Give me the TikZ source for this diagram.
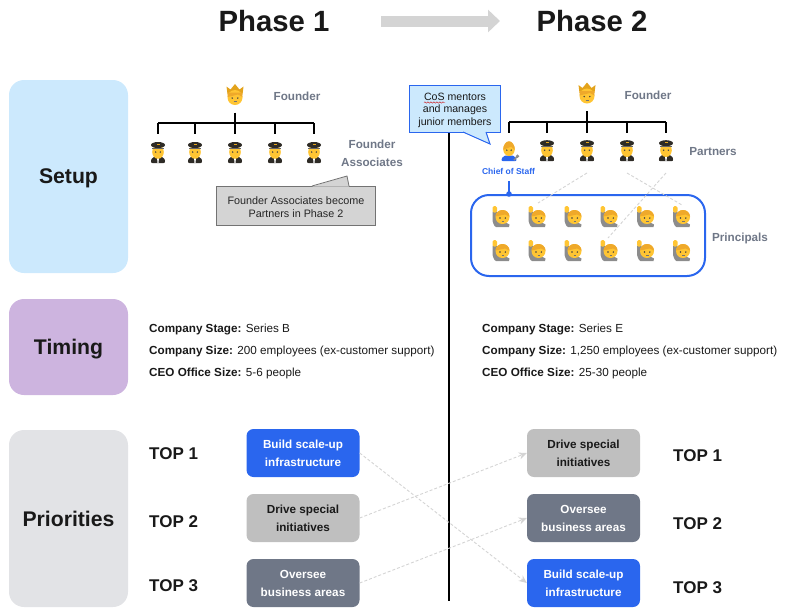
\documentclass[tikz,border=0pt]{standalone}
\usepackage{fontspec}
\setmainfont{Liberation Sans}
\usetikzlibrary{arrows.meta,decorations.pathmorphing}

\definecolor{skyfill}{HTML}{CCE9FD}
\definecolor{lilacfill}{HTML}{CDB4DF}
\definecolor{mistfill}{HTML}{E2E3E6}
\definecolor{bluefill}{HTML}{2A66EE}
\definecolor{silverfill}{HTML}{BFBFBF}
\definecolor{slatefill}{HTML}{6F7787}
\definecolor{skin}{HTML}{FFC533}
\definecolor{hair}{HTML}{EFA92A}
\definecolor{gold}{HTML}{E3A31C}
\definecolor{capdark}{HTML}{2E2B26}
\definecolor{sleeve}{HTML}{8C8C8C}
\definecolor{dashgrey}{HTML}{D4D4D4}

\tikzset{
  rowbox/.style={draw=none,rounded corners=15pt,minimum width=119pt,font=\bfseries\fontsize{21.2}{24}\selectfont,text=black!90,inner sep=0pt},
  taskbox/.style={rounded corners=7pt,minimum width=113pt,minimum height=48pt,inner sep=0pt,align=center,text height=28pt,font=\bfseries\fontsize{11.7}{18}\selectfont},
  buildbox/.style={taskbox,fill=bluefill,text=white},
  drivebox/.style={taskbox,fill=silverfill,text=black!90},
  overseebox/.style={taskbox,fill=slatefill,text=white},
  toplabel/.style={anchor=west,inner sep=0pt,font=\bfseries\fontsize{17}{18}\selectfont,text=black!90},
  rolelabel/.style={inner sep=0pt,align=center,font=\bfseries\fontsize{11.7}{18}\selectfont,text=slatefill},
  factline/.style={anchor=west,inner sep=0pt,font=\fontsize{11.7}{12}\selectfont,text=black!90},
  iconbox/.style={inner sep=0pt,minimum width=22pt,minimum height=36pt},
  orgline/.style={line width=1.5pt,black},
  movearrow/.style={dashgrey,densely dashed,line width=0.9pt,-{Stealth[length=8pt,width=7pt]}},
  moveline/.style={dashgrey,densely dashed,line width=0.9pt},
  pics/founder/.style={code={
    \fill[gold] (-7.5,0) -- (-8.5,-8) -- (-4.5,-5) -- (0,-10.5) -- (4.5,-5) -- (8.5,-8) -- (7.5,0) -- cycle;
    \fill[skin] (0,3) ellipse (7.5 and 7.5);
    \fill[hair] (-7.5,2.5) -- (-7,-2) -- (7,-2) -- (7.5,2.5) -- (3,0) -- cycle;
    \fill[black!75] (-2.8,3.5) circle (0.8) (2.8,3.5) circle (0.8);
    \draw[black!55,line width=0.5pt] (-1.5,7) -- (1.5,7);
  }},
  pics/pilot/.style={code={
    \fill[capdark,rounded corners=2pt] (-7.5,10.5) -- (-6,4.5) -- (6,4.5) -- (7.5,10.5) -- cycle;
    \fill[white] (-1,5) -- (1,5) -- (0.5,10.5) -- (-0.5,10.5) -- cycle;
    \fill[skin] (0,-0.5) ellipse (5.8 and 6.8);
    \fill[capdark] (0,-7.5) ellipse (7 and 3);
    \fill[gold] (-1.5,-9) rectangle (1.5,-7.5);
    \fill[black!60] (-6,-5) rectangle (6,-4);
    \fill[black!75] (-2.3,-0.5) circle (0.8) (2.3,-0.5) circle (0.8);
  }},
  pics/principal/.style={code={
    \fill[sleeve] (-8.5,-5) -- (-8.5,5) to[out=90,in=180] (-5,10.5) -- (8,10.5) -- (8.5,8) -- (3,5) -- (-4,4) -- (-4,-5) -- cycle;
    \fill[skin,rounded corners=1.5pt] (-8.5,-4) rectangle (-4,-10.5);
    \fill[skin] (1.5,0.5) circle (7);
    \fill[hair] (-5.5,0) arc (180:360:7 and 6.5) -- (4,-2) -- cycle;
    \fill[black!75] (-1,1.5) circle (0.8) (4.3,1.5) circle (0.8);
    \draw[black!55,line width=0.5pt] (0.5,5) -- (3,5);
  }},
  pics/chief/.style={code={
    \fill[bluefill,rounded corners=2pt] (-8,10.5) -- (-6,5) -- (6,5) -- (8,10.5) -- cycle;
    \fill[skin] (0,-1.5) ellipse (5.8 and 6.8);
    \fill[hair] (-5.8,-1) arc (180:360:5.8 and 8.5) -- (2,-4) -- cycle;
    \fill[black!75] (-2.2,-0.5) circle (0.8) (2.2,-0.5) circle (0.8);
    \draw[sleeve,line width=1.4pt] (5,9.5) -- (8,6);
    \fill[sleeve] (8.5,5.5) circle (1.8);
  }},
}

\begin{document}
\begin{tikzpicture}[x=1pt,y=-1pt]
  \useasboundingbox (0,0) rectangle (788,614);

  % header
  \node[inner sep=0pt,font=\bfseries\fontsize{29.3}{32}\selectfont,text=black!90] (phaseone) at (274,21) {Phase 1};
  \node[inner sep=0pt,font=\bfseries\fontsize{29.3}{32}\selectfont,text=black!90] (phasetwo) at (592,21) {Phase 2};
  \coordinate (headstart) at (381,21);
  \coordinate (headend) at (500,21);
  \draw[dashgrey,line width=11pt,-{Triangle[length=12pt,width=22pt]}] (headstart) -- (headend);

  % rows on the left
  \node[rowbox,fill=skyfill,minimum height=193pt,text depth=0pt] (setup) at (68.5,176.5) {Setup};
  \node[rowbox,fill=lilacfill,minimum height=96pt,text depth=0pt] (timing) at (68.5,347) {Timing};
  \node[rowbox,fill=mistfill,minimum height=177pt] (priorities) at (68.5,518.5) {Priorities};

  % divider
  \coordinate (divtop) at (449,133);
  \coordinate (divbottom) at (449,601);
  \draw[black,line width=1.5pt] (divtop) -- (divbottom);

  % phase 1 chart
  \node[iconbox] (founderA) at (235,94.5) {};
  \pic at (founderA) {founder};
  \coordinate (busA) at (235,123);
  \foreach \x/\n in {158/a,195/b,235/c,275/d,314/e} {
    \node[iconbox] (assoc\n) at (\x,152.5) {};
    \pic at (assoc\n) {pilot};
    \draw[orgline] (\x,123) -- (assoc\n.north);
  }
  \draw[orgline] (assoca.north |- busA) -- (assoce.north |- busA);
  \draw[orgline] (founderA.south) -- (busA);
  \node[rolelabel] (founderAlabel) at (297,96) {Founder};
  \node[rolelabel] (assoclabel) at (372,153) {Founder\\Associates};

  % grey callout
  \node[draw=black!55,fill=black!17,line width=0.8pt,minimum width=159pt,minimum height=39pt,inner sep=0pt,align=center,text height=24pt,font=\fontsize{10.8}{13}\selectfont,text=black!85] (becomenote) at (296,205.5) {Founder Associates become\\Partners in Phase 2};
  \coordinate (becometip) at (347,176);
  \fill[black!17] (312,186.6) -- (becometip) -- (349,186.6) -- cycle;
  \draw[black!55,line width=0.8pt] (312,186) -- (becometip) -- (349,186);

  % phase 2 chart
  \node[iconbox] (founderB) at (587,93) {};
  \pic at (founderB) {founder};
  \coordinate (busB) at (587,122);
  \node[iconbox] (chief) at (509,150.7) {};
  \pic at (chief) {chief};
  \foreach \x/\n in {547/a,587/b,627/c,666/d} {
    \node[iconbox] (partner\n) at (\x,150.7) {};
    \pic at (partner\n) {pilot};
    \draw[orgline] (\x,122) -- (partner\n.north);
  }
  \draw[orgline] (509,122) -- (chief.north);
  \draw[orgline] (chief.north |- busB) -- (partnerd.north |- busB);
  \draw[orgline] (founderB.south) -- (busB);
  \node[rolelabel] (founderBlabel) at (648,95) {Founder};
  \node[rolelabel] (partnerlabel) at (713,152) {Partners};
  \node[inner sep=0pt,font=\bfseries\fontsize{8.5}{10}\selectfont,text=bluefill] (chieflabel) at (508.5,171) {Chief of Staff};

  % principals
  \node[draw=bluefill,line width=2pt,rounded corners=18pt,minimum width=234pt,minimum height=81pt,inner sep=0pt] (team) at (588,235.5) {};
  \foreach \x/\n in {501/a,537/b,573/c,609/d,645.5/e,681.5/f} {
    \foreach \y/\r in {216.5/u,250.5/l} {
      \node[iconbox] (pr\r\n) at (\x,\y) {};
      \pic at (pr\r\n) {principal};
    }
  }
  \node[rolelabel] (principallabel) at (740,238) {Principals};
  \coordinate (chieffoot) at (509,181);
  \draw[bluefill,line width=1.2pt] (chieffoot) -- (chief |- team.north);
  \fill[bluefill] (chief |- team.north) circle (2.8);
  \coordinate (moveAa) at (587,173);
  \coordinate (moveAb) at (538,203);
  \coordinate (moveBa) at (627,173);
  \coordinate (moveBb) at (682,205);
  \coordinate (moveCa) at (666,173);
  \coordinate (moveCb) at (608,238);
  \draw[moveline] (moveAa) -- (moveAb);
  \draw[moveline] (moveBa) -- (moveBb);
  \draw[moveline] (moveCa) -- (moveCb);

  % blue callout
  \node[draw=bluefill,fill=skyfill,line width=1pt,minimum width=91pt,minimum height=47pt,inner sep=0pt,align=center,text height=36pt,font=\fontsize{10.6}{12.5}\selectfont,text=black!90] (cosnote) at (455,108.5) {CoS mentors\\and manages\\junior members};
  \coordinate (costip) at (490,144);
  \fill[skyfill] (463,131.5) -- (costip) -- (486,131.5) -- cycle;
  \draw[bluefill,line width=1pt] (463,132) -- (costip) -- (486,132);
  \draw[red!80!black,line width=0.4pt,decorate,decoration={snake,amplitude=0.7pt,segment length=3pt}] (424,102.5) -- (445,102.5);

  % timing facts
  \foreach \x/\n/\stage/\size/\office in {149/one/Series B/200/5-6,482/two/Series E/{1,250}/25-30} {
    \node[factline] (stage\n) at (\x,329) {\textbf{Company Stage:} \stage};
    \node[factline] (size\n) at (\x,351) {\textbf{Company Size:} \size{} employees (ex-customer support)};
    \node[factline] (office\n) at (\x,373) {\textbf{CEO Office Size:} \office{} people};
  }

  % priorities
  \node[toplabel] (topAa) at (149,454) {TOP 1};
  \node[toplabel] (topAb) at (149,522) {TOP 2};
  \node[toplabel] (topAc) at (149,586) {TOP 3};
  \node[toplabel] (topBa) at (673,456) {TOP 1};
  \node[toplabel] (topBb) at (673,524) {TOP 2};
  \node[toplabel] (topBc) at (673,588) {TOP 3};
  \node[buildbox] (buildA) at (303,453) {Build scale-up\\infrastructure};
  \node[drivebox] (driveA) at (303,518) {Drive special\\initiatives};
  \node[overseebox] (overseeA) at (303,583) {Oversee\\business areas};
  \node[drivebox] (driveB) at (583.5,453) {Drive special\\initiatives};
  \node[overseebox] (overseeB) at (583.5,518) {Oversee\\business areas};
  \node[buildbox] (buildB) at (583.5,583) {Build scale-up\\infrastructure};
  \draw[movearrow] (buildA.east) -- (buildB.west);
  \draw[movearrow] (driveA.east) -- (driveB.west);
  \draw[movearrow] (overseeA.east) -- (overseeB.west);
\end{tikzpicture}
\end{document}
